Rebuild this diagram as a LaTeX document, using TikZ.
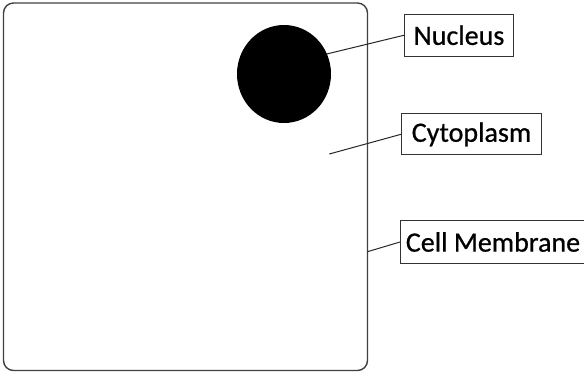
\documentclass[tikz,border=0pt]{standalone}
\usepackage{fontspec}
\setmainfont{Carlito}
\newfontface\tagfont{Carlito}[FakeBold=0.7]
\usetikzlibrary{shapes.geometric}
\begin{document}
\begin{tikzpicture}[x=1pt,y=-1pt,
  cellwall/.style={draw=black!75, line width=1.4pt, rounded corners=10pt},
  tag/.style={draw=black!80, fill=white, line width=1pt, anchor=north west,
    inner sep=0pt, font=\tagfont\fontsize{28}{30}\selectfont},
  leader/.style={draw=black!85, line width=1pt}]
\useasboundingbox (0,0) rectangle (584,372);

% cell outline
\draw[cellwall] (3.5,3) rectangle (367.5,370.5);

% nucleus
\node[ellipse, fill=black, inner sep=0pt, minimum width=94pt, minimum height=98pt]
  (nucleus) at (284,74) {};

% points the leaders start from
\coordinate (cytoPoint) at (329.3,154);
\coordinate (wallPoint) at (367.5,251.7);

% labels
\node[tag, minimum width=109pt, minimum height=41.5pt] (nucleusTag) at (404,14) {Nucleus};
\node[tag, minimum width=140pt, minimum height=41pt] (cytoTag) at (401,113.3) {Cytoplasm};
\node[tag, minimum width=185pt, minimum height=43pt] (wallTag) at (400,220) {Cell Membrane};

% leaders
\draw[leader] (nucleus.25) -- (nucleusTag.west);
\draw[leader] (cytoPoint) -- (cytoTag.west);
\draw[leader] (wallPoint) -- (wallTag.west);
\end{tikzpicture}
\end{document}
